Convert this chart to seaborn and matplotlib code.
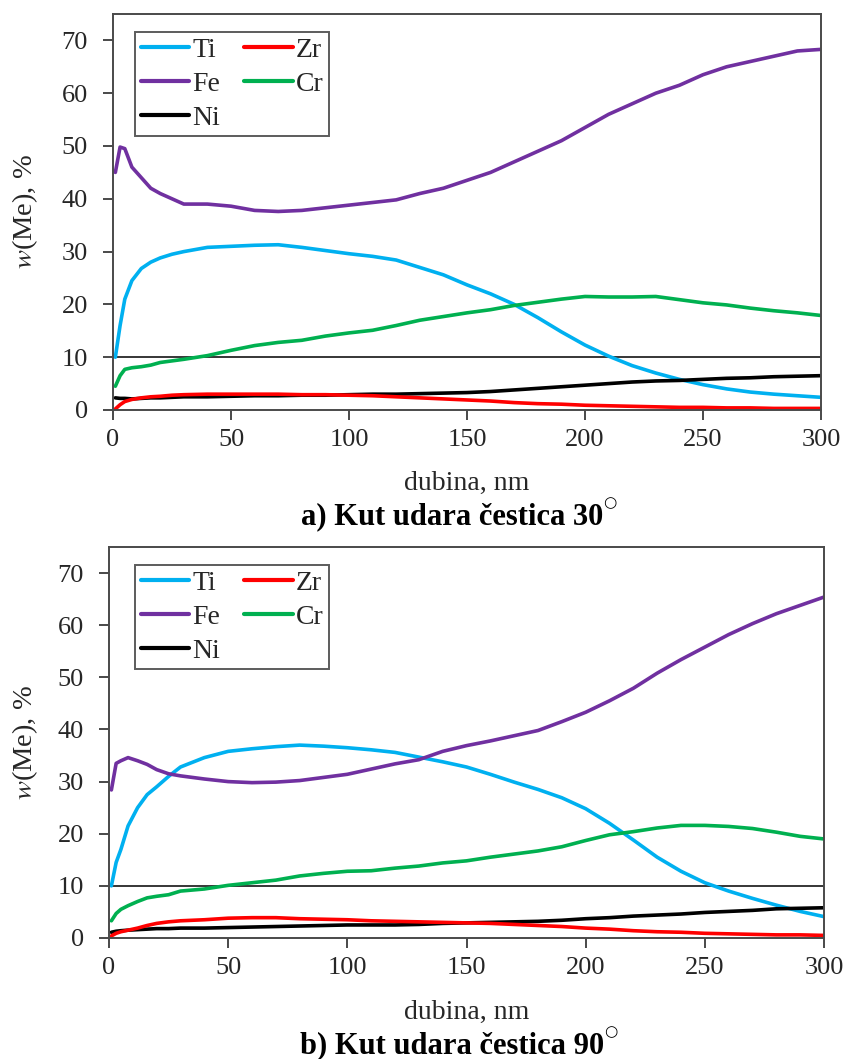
import numpy as np
import pandas as pd
import matplotlib
matplotlib.use("Agg")
import matplotlib.pyplot as plt
import seaborn as sns

# depth grid, nm
dubina = [1, 3, 5, 8, 12, 16, 20, 25, 30, 40, 50, 60, 70, 80, 90, 100, 110, 120, 130,
          140, 150, 160, 170, 180, 190, 200, 210, 220, 230, 240, 250, 260, 270, 280, 290, 300]

# a) impact angle 30
ti_a = [10, 16, 21, 24.5, 26.8, 28, 28.8, 29.5, 30, 30.8, 31, 31.2, 31.3, 30.8, 30.2, 29.6, 29.1, 28.4, 27,
        25.6, 23.7, 22, 20, 17.5, 14.8, 12.3, 10.2, 8.4, 7, 5.8, 4.8, 4, 3.4, 3, 2.7, 2.4]
fe_a = [45, 49.8, 49.5, 46, 44, 42, 41, 40, 39, 39, 38.6, 37.8, 37.6, 37.8, 38.3, 38.8, 39.3, 39.8, 41,
        42, 43.5, 45, 47, 49, 51, 53.5, 56, 58, 60, 61.5, 63.5, 65, 66, 67, 68, 68.3]
cr_a = [4.5, 6.5, 7.7, 8, 8.2, 8.5, 9, 9.3, 9.6, 10.3, 11.3, 12.2, 12.8, 13.2, 14, 14.6, 15.1, 16, 17,
        17.7, 18.4, 19, 19.8, 20.4, 21, 21.5, 21.4, 21.4, 21.5, 20.9, 20.3, 19.9, 19.3, 18.8, 18.4, 17.9]
zr_a = [0.2, 1, 1.6, 2, 2.3, 2.5, 2.6, 2.8, 2.9, 3, 3, 3, 3, 2.9, 2.9, 2.8, 2.7, 2.5, 2.3,
        2.1, 1.9, 1.7, 1.4, 1.2, 1.1, 0.9, 0.8, 0.7, 0.6, 0.5, 0.5, 0.4, 0.4, 0.3, 0.3, 0.3]
ni_a = [2.3, 2.2, 2.2, 2.1, 2.2, 2.3, 2.3, 2.4, 2.5, 2.5, 2.6, 2.7, 2.7, 2.8, 2.8, 2.9, 3, 3, 3.1,
        3.2, 3.3, 3.5, 3.8, 4.1, 4.4, 4.7, 5, 5.3, 5.5, 5.6, 5.8, 6, 6.1, 6.3, 6.4, 6.5]

# b) impact angle 90
ti_b = [10, 14.5, 17, 21.5, 25, 27.5, 29, 31, 32.8, 34.6, 35.8, 36.3, 36.7, 37, 36.8, 36.5, 36.1, 35.6, 34.7,
        33.8, 32.8, 31.4, 29.9, 28.5, 26.9, 24.8, 22, 18.8, 15.5, 12.8, 10.6, 9, 7.6, 6.3, 5.1, 4.1]
fe_b = [28.4, 33.5, 34, 34.6, 34, 33.3, 32.3, 31.5, 31.1, 30.5, 30, 29.8, 29.9, 30.2, 30.8, 31.4, 32.4, 33.4, 34.2,
        35.8, 36.9, 37.8, 38.8, 39.8, 41.5, 43.3, 45.5, 47.9, 50.8, 53.4, 55.8, 58.2, 60.3, 62.2, 63.8, 65.4]
cr_b = [3.3, 4.7, 5.5, 6.2, 7, 7.7, 8, 8.3, 9, 9.4, 10.1, 10.6, 11.1, 11.9, 12.4, 12.8, 12.9, 13.4, 13.8,
        14.4, 14.8, 15.5, 16.1, 16.7, 17.5, 18.7, 19.8, 20.4, 21.1, 21.6, 21.6, 21.4, 21, 20.3, 19.5, 19]
zr_b = [0.4, 0.9, 1.2, 1.5, 1.9, 2.4, 2.8, 3.1, 3.3, 3.5, 3.8, 3.9, 3.9, 3.7, 3.6, 3.5, 3.3, 3.2, 3.1,
        3, 2.9, 2.8, 2.6, 2.4, 2.2, 1.9, 1.7, 1.4, 1.2, 1.1, 0.9, 0.8, 0.7, 0.6, 0.6, 0.5]
ni_b = [1.1, 1.3, 1.4, 1.5, 1.6, 1.7, 1.8, 1.8, 1.9, 1.9, 2, 2.1, 2.2, 2.3, 2.4, 2.5, 2.5, 2.5, 2.6,
        2.8, 2.9, 3, 3.1, 3.2, 3.4, 3.7, 3.9, 4.2, 4.4, 4.6, 4.9, 5.1, 5.3, 5.6, 5.7, 5.8]

titles = ["a) Kut udara čestica 30", "b) Kut udara čestica 90"]
colors = {"Ti": "#00B0F0", "Zr": "#FF0000", "Fe": "#7030A0", "Cr": "#00B050", "Ni": "#000000"}
# column-major legend order -> rows Ti/Zr, Fe/Cr, Ni
legend_order = ["Ti", "Fe", "Ni", "Zr", "Cr"]

sns.set_style("ticks")
plt.rcParams["font.family"] = ["Liberation Serif", "DejaVu Serif"]
plt.rcParams["mathtext.fontset"] = "stix"

fig = plt.figure(figsize=(8.45, 10.59), dpi=100)
W, H = 845, 1059

def make_df(ti, fe, cr, zr, ni):
    df = pd.DataFrame({"dubina": dubina, "Ti": ti, "Fe": fe, "Cr": cr, "Zr": zr, "Ni": ni})
    return df.melt(id_vars="dubina", var_name="el", value_name="w")

# axes box in pixels (left, top, right, bottom), x-label baseline, title baseline
panels = [
    (make_df(ti_a, fe_a, cr_a, zr_a, ni_a), (113, 14, 821, 410), 490, 524),
    (make_df(ti_b, fe_b, cr_b, zr_b, ni_b), (109, 547, 824, 938), 1019, 1053),
]

renderer = fig.canvas.get_renderer()

for i, (df, (x0, y0, x1, y1), xl_y, t_y) in enumerate(panels):
    ax = fig.add_axes([x0 / W, 1 - y1 / H, (x1 - x0) / W, (y1 - y0) / H])
    sns.lineplot(data=df, x="dubina", y="w", hue="el", hue_order=legend_order,
                 palette=colors, linewidth=2.6, ax=ax, sort=False)
    ax.axhline(10, color="black", lw=1.1, zorder=1)
    ax.set_xlim(0, 300)
    ax.set_ylim(0, 75)
    ax.set_xticks(range(0, 301, 50))
    ax.set_yticks(range(0, 71, 10))
    ax.tick_params(direction="out", length=7, width=1.3, labelsize=19,
                   colors="#3a3a3a", labelcolor="#262626")
    ax.tick_params(axis="x", pad=7)
    ax.tick_params(axis="y", pad=11)
    for s in ax.spines.values():
        s.set_color("#4a4a4a")
        s.set_linewidth(1.4)
    ax.set_xlabel("")
    ax.set_ylabel("$w$(Me), %", fontsize=20.5, color="#262626")
    ax.yaxis.set_label_coords((40 - x0) / (x1 - x0), 0.5)

    handles, labels = ax.get_legend_handles_labels()
    leg = ax.legend(handles, labels, ncol=2, loc="upper left",
                    bbox_to_anchor=((135 - x0) / (x1 - x0), (y1 - (y0 + 18)) / (y1 - y0)),
                    borderaxespad=0, fontsize=20, handlelength=1.75, handletextpad=0.12,
                    columnspacing=0.85, labelspacing=0.3, borderpad=0.2,
                    frameon=True, fancybox=False, edgecolor="#333333")
    leg.get_frame().set_linewidth(1.4)
    for line in leg.get_lines():
        line.set_linewidth(3)

    fig.text((x0 + x1) / 2 / W, 1 - xl_y / H, "dubina, nm", ha="center", va="baseline",
             fontsize=20, color="#262626")
    t = fig.text(452 / W, 1 - t_y / H, titles[i], ha="center", va="baseline",
                 fontsize=22, fontweight="bold", color="black")
    bb = t.get_window_extent(renderer)
    fig.text((bb.x1 + 0.5) / W, 1 - (t_y - 17) / H, "○", ha="left", va="baseline",
             fontsize=11, family="DejaVu Sans", color="black")

fig.savefig("out.png", dpi=100)
